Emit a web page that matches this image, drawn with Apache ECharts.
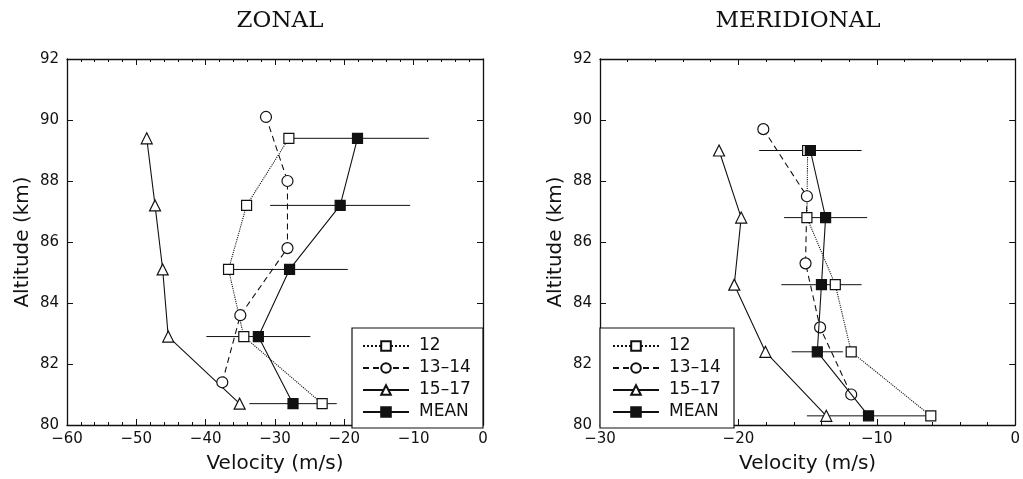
<!DOCTYPE html>
<html>
<head>
<meta charset="utf-8">
<script src="https://cdn.jsdelivr.net/npm/echarts@6/dist/echarts.min.js"></script>
<style>
  html, body { margin: 0; padding: 0; background: #fff; }
  #chart { width: 1023px; height: 479px; }
</style>
</head>
<body>
<div id="chart"></div>
<script>
// Wind velocity profiles by altitude (km) — zonal and meridional components
const seriesNames = ['12', '13–14', '15–17', 'MEAN'];
const altTicks = [80, 82, 84, 86, 88, 90, 92];

// Zonal component (m/s)
const zonal12Vel   = [-28.0, -34.1, -36.7, -34.5, -23.2];
const zonal12Alt   = [89.4, 87.2, 85.1, 82.9, 80.7];
const zonal1314Vel = [-31.3, -28.2, -28.2, -35.0, -37.6];
const zonal1314Alt = [90.1, 88.0, 85.8, 83.6, 81.4];
const zonal1517Vel = [-48.5, -47.3, -46.2, -45.4, -35.1];
const zonal1517Alt = [89.4, 87.2, 85.1, 82.9, 80.7];
const zonalMeanVel = [-18.1, -20.6, -27.9, -32.4, -27.4];
const zonalMeanAlt = [89.4, 87.2, 85.1, 82.9, 80.7];
const zonalMeanErr = [10.3, 10.1, 8.4, 7.5, 6.3];

// Meridional component (m/s)
const merid12Vel   = [-15.0, -15.05, -13.0, -11.85, -6.1];
const merid12Alt   = [89.0, 86.8, 84.6, 82.4, 80.3];
const merid1314Vel = [-18.2, -15.05, -15.15, -14.1, -11.85];
const merid1314Alt = [89.7, 87.5, 85.3, 83.2, 81.0];
const merid1517Vel = [-21.4, -19.8, -20.3, -18.05, -13.65];
const merid1517Alt = [89.0, 86.8, 84.6, 82.4, 80.3];
const meridMeanVel = [-14.8, -13.7, -14.0, -14.3, -10.6];
const meridMeanAlt = [89.0, 86.8, 84.6, 82.4, 80.3];
const meridMeanErr = [3.7, 3.0, 2.9, 1.85, 4.45];

const INK = '#111';
const SANS = 'DejaVu Sans';

const pairs = (xs, ys) => xs.map((x, i) => [x, ys[i]]);
const errRows = (xs, ys, es) => xs.map((x, i) => [x - es[i], x + es[i], ys[i]]);
const minusFmt = v => (v < 0 ? '−' + Math.abs(v) : String(v));

const grids = [
  { left: 67, top: 59, width: 416, height: 369 },
  { left: 600, top: 59, width: 416, height: 369 }
];

function xAxes(gi, min, max) {
  const base = {
    gridIndex: gi, type: 'value', min: min, max: max, interval: 10,
    axisLine: { show: true, onZero: false, lineStyle: { color: INK, width: 1.3 } },
    axisTick: { show: true, inside: true, length: 6, lineStyle: { color: INK } },
    minorTick: { show: true, splitNumber: 5, length: 3, lineStyle: { color: INK } },
    splitLine: { show: false }
  };
  return [
    Object.assign({}, base, {
      position: 'bottom',
      name: 'Velocity (m/s)', nameLocation: 'middle', nameGap: 29,
      nameTextStyle: { fontFamily: SANS, fontSize: 20, color: INK },
      axisLabel: { fontFamily: SANS, fontSize: 15, color: INK, margin: 7, formatter: minusFmt }
    }),
    Object.assign({}, base, { position: 'top', axisLabel: { show: false } })
  ];
}

function yAxes(gi) {
  const base = {
    gridIndex: gi, type: 'value', min: altTicks[0], max: altTicks[altTicks.length - 1], interval: 2,
    axisLine: { show: true, onZero: false, lineStyle: { color: INK, width: 1.3 } },
    axisTick: { show: true, inside: true, length: 6, lineStyle: { color: INK } },
    splitLine: { show: false }
  };
  return [
    Object.assign({}, base, {
      position: 'left',
      name: 'Altitude (km)', nameLocation: 'middle', nameGap: 34, nameRotate: 90,
      nameTextStyle: { fontFamily: SANS, fontSize: 20, color: INK },
      axisLabel: { fontFamily: SANS, fontSize: 15, color: INK, margin: 8 }
    }),
    Object.assign({}, base, { position: 'right', axisLabel: { show: false } })
  ];
}

function profile(name, data, gi, symbol, size, dash, filled) {
  return {
    type: 'line', name: name, data: data,
    xAxisIndex: gi * 2, yAxisIndex: gi * 2,
    symbol: symbol, symbolSize: size, showSymbol: true,
    lineStyle: { color: INK, width: 1.1, type: dash },
    itemStyle: { color: filled ? INK : '#fff', borderColor: INK, borderWidth: 1.2 },
    z: filled ? 4 : 3, animation: false
  };
}

function errorBars(rows, gi) {
  return {
    type: 'custom', name: 'err' + gi,
    xAxisIndex: gi * 2, yAxisIndex: gi * 2,
    data: rows,
    encode: { x: [0, 1], y: 2 },
    renderItem: function (params, api) {
      const a = api.coord([api.value(0), api.value(2)]);
      const b = api.coord([api.value(1), api.value(2)]);
      return {
        type: 'line',
        shape: { x1: a[0], y1: a[1], x2: b[0], y2: b[1] },
        style: { stroke: INK, lineWidth: 1 }
      };
    },
    z: 2, silent: true, animation: false
  };
}

function panelSeries(gi, d) {
  return [
    errorBars(d.err, gi),
    profile(seriesNames[0], d.s12, gi, 'rect', 10, 'dotted', false),
    profile(seriesNames[1], d.s1314, gi, 'circle', 11, [6, 4], false),
    profile(seriesNames[2], d.s1517, gi, 'triangle', 11, 'solid', false),
    profile(seriesNames[3], d.mean, gi, 'rect', 10, 'solid', true)
  ];
}

function legendBox(gi) {
  const g = grids[gi];
  const boxW = gi === 0 ? 131 : 134;
  const x = gi === 0 ? g.left + g.width - boxW : g.left;
  return {
    type: 'rect', z: 5,
    shape: { x: x, y: g.top + g.height - 100, width: boxW, height: 100 },
    style: { fill: '#fff', stroke: INK, lineWidth: 1.2 }
  };
}

function legend(gi) {
  const g = grids[gi];
  const left = gi === 0 ? g.left + g.width - 131 + 10 : g.left + 12;
  return {
    orient: 'vertical', left: left, top: g.top + g.height - 92,
    itemWidth: 46, itemHeight: 12, itemGap: 2, z: 6, padding: 0,
    selectedMode: false,
    data: seriesNames,
    textStyle: { fontFamily: SANS, fontSize: 17, color: INK, lineHeight: 20, padding: [0, 0, 0, 5] }
  };
}

const chart = echarts.init(document.getElementById('chart'), null, { renderer: 'canvas' });
chart.setOption({
  backgroundColor: '#fff',
  animation: false,
  title: [
    { text: 'ZONAL', left: 275, top: 5, textAlign: 'center',
      textStyle: { fontFamily: 'DejaVu Serif', fontWeight: 'normal', fontSize: 23, color: INK } },
    { text: 'MERIDIONAL', left: 793, top: 5, textAlign: 'center',
      textStyle: { fontFamily: 'DejaVu Serif', fontWeight: 'normal', fontSize: 23, color: INK } }
  ],
  grid: grids,
  xAxis: xAxes(0, -60, 0).concat(xAxes(1, -30, 0)),
  yAxis: yAxes(0).concat(yAxes(1)),
  graphic: [legendBox(0), legendBox(1)],
  legend: [legend(0), legend(1)],
  series: panelSeries(0, {
    err: errRows(zonalMeanVel, zonalMeanAlt, zonalMeanErr),
    s12: pairs(zonal12Vel, zonal12Alt),
    s1314: pairs(zonal1314Vel, zonal1314Alt),
    s1517: pairs(zonal1517Vel, zonal1517Alt),
    mean: pairs(zonalMeanVel, zonalMeanAlt)
  }).concat(panelSeries(1, {
    err: errRows(meridMeanVel, meridMeanAlt, meridMeanErr),
    s12: pairs(merid12Vel, merid12Alt),
    s1314: pairs(merid1314Vel, merid1314Alt),
    s1517: pairs(merid1517Vel, merid1517Alt),
    mean: pairs(meridMeanVel, meridMeanAlt)
  }))
});
</script>
</body>
</html>
